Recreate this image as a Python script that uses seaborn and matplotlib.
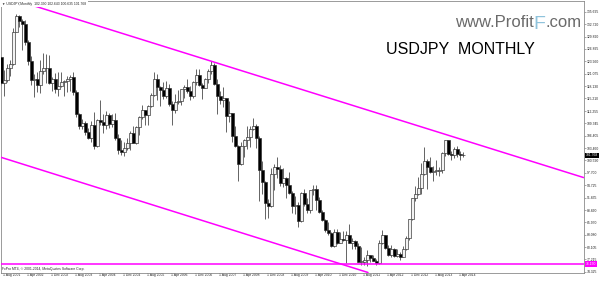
import numpy as np
import pandas as pd
import matplotlib
matplotlib.use("Agg")
import matplotlib.pyplot as plt
import matplotlib.transforms as mtrans
import seaborn as sns

sns.set_theme(style="white")
plt.rcParams["font.family"] = ["Liberation Sans", "DejaVu Sans"]

# ---------------- data (monthly USDJPY, Aug 2001 .. Jun 2014) ----------------
opens = [124.9, 118.9, 119.5, 122.4, 123.4, 131.0, 134.7, 133.4, 132.7, 128.5,
         124.0, 119.5, 119.8, 118.4, 121.8, 122.5, 122.4, 118.8, 119.9, 117.5,
         118.1, 119.0, 119.3, 119.8, 120.4, 116.7, 111.5, 108.6, 109.4, 107.2,
         105.9, 109.0, 103.9, 110.2, 109.6, 108.9, 111.4, 109.3, 110.1, 105.8,
         103.1, 102.6, 103.6, 104.6, 107.1, 104.8, 108.4, 110.9, 112.4, 111.3,
         113.4, 116.1, 119.7, 117.9, 117.2, 115.8, 117.8, 113.8, 112.4, 114.4,
         114.7, 117.4, 118.0, 117.0, 115.8, 119.0, 120.7, 118.5, 117.8, 119.7,
         121.7, 123.2, 118.7, 115.8, 114.8, 115.3, 111.1, 111.7, 106.4, 103.9,
         99.7, 104.0, 105.5, 106.1, 108.1, 108.8, 106.0, 98.4, 95.4, 90.6,
         89.9, 97.5, 99.0, 98.6, 95.3, 96.4, 94.7, 93.0, 89.8, 90.0,
         86.3, 93.0, 90.3, 89.0, 93.5, 93.9, 91.3, 88.4, 86.5, 84.2,
         83.5, 80.4, 83.7, 81.1, 82.1, 81.8, 83.1, 81.2, 81.5, 80.5,
         76.7, 76.7, 77.0, 78.2, 77.6, 76.9, 76.3, 81.2, 82.9, 80.0,
         78.3, 79.8, 78.1, 78.4, 77.9, 79.8, 82.4, 86.7, 91.7, 92.6,
         94.2, 97.4, 100.5, 99.1, 97.9, 98.2, 98.2, 98.3, 102.4, 105.3,
         102.0, 101.8, 103.2, 102.2, 101.8]
highs = [125.0, 121.9, 123.3, 124.3, 131.8, 135.2, 135.0, 133.9, 133.8, 128.9,
         125.2, 121.0, 121.4, 124.3, 126.0, 125.7, 125.4, 120.3, 121.3, 121.4,
         121.4, 119.5, 120.5, 120.7, 121.4, 117.3, 111.9, 110.3, 109.8, 108.2,
         110.0, 112.1, 110.3, 114.9, 111.5, 112.3, 111.9, 111.5, 111.7, 106.8,
         105.5, 104.9, 106.0, 107.5, 108.8, 108.6, 111.1, 113.7, 112.6, 113.6,
         116.4, 121.4, 121.0, 118.1, 119.1, 119.4, 118.7, 114.5, 116.3, 117.3,
         117.5, 118.3, 119.8, 118.2, 119.3, 122.2, 122.2, 118.8, 120.1, 122.2,
         124.1, 123.7, 119.8, 117.0, 117.9, 115.4, 114.7, 111.9, 108.6, 104.3,
         105.0, 105.6, 108.6, 108.6, 110.7, 109.1, 106.3, 100.5, 95.7, 91.5,
         98.9, 99.7, 101.4, 99.5, 98.8, 96.6, 97.8, 93.4, 92.3, 90.8,
         93.1, 93.8, 91.8, 93.7, 94.9, 94.7, 92.0, 88.9, 86.8, 86.0,
         83.7, 84.4, 84.5, 83.6, 84.0, 84.0, 85.5, 82.2, 81.7, 81.0,
         80.2, 77.8, 79.5, 78.3, 78.3, 77.4, 81.7, 84.2, 83.0, 80.6,
         80.6, 79.9, 79.6, 78.9, 80.4, 82.8, 86.8, 91.8, 94.5, 96.7,
         99.9, 103.7, 101.0, 101.5, 99.2, 100.6, 99.0, 102.6, 105.4, 105.4,
         102.8, 103.8, 104.1, 102.8, 102.6]
lows = [118.5, 115.8, 119.0, 120.6, 123.0, 130.9, 132.0, 126.6, 127.9, 123.0,
        118.4, 115.5, 116.8, 116.5, 121.0, 118.8, 118.6, 117.0, 116.6, 115.9,
        117.9, 115.8, 116.8, 116.9, 116.1, 110.9, 107.9, 107.9, 106.7, 105.6,
        104.9, 103.4, 103.7, 108.9, 107.0, 108.0, 108.3, 108.5, 105.4, 102.0,
        101.9, 101.7, 103.0, 103.0, 104.6, 104.5, 106.6, 110.3, 108.9, 109.0,
        113.2, 115.7, 114.8, 113.4, 115.2, 115.4, 113.4, 108.9, 111.7, 114.0,
        113.6, 115.3, 116.6, 114.9, 115.4, 118.3, 118.1, 115.2, 117.6, 118.8,
        121.1, 118.5, 111.6, 113.8, 113.2, 107.2, 109.7, 104.9, 103.8, 95.7,
        99.5, 101.4, 103.4, 103.8, 107.7, 103.5, 90.9, 92.7, 86.8, 87.1,
        89.5, 93.6, 96.5, 94.5, 94.4, 91.7, 92.6, 88.2, 88.0, 84.8,
        86.1, 89.8, 88.1, 88.1, 92.4, 88.9, 88.3, 86.3, 83.6, 82.9,
        80.2, 80.2, 80.9, 81.0, 81.5, 76.3, 81.1, 79.6, 79.7, 76.6,
        75.9, 75.9, 75.6, 76.6, 76.8, 76.0, 76.1, 80.9, 79.6, 78.0,
        77.7, 77.9, 77.9, 77.1, 77.8, 79.5, 81.7, 86.5, 90.9, 92.5,
        92.6, 97.1, 93.8, 97.6, 95.8, 97.2, 96.9, 97.6, 101.6, 101.8,
        100.8, 101.2, 101.4, 100.8, 101.4]
closes = [118.9, 119.5, 122.4, 123.4, 131.0, 134.7, 133.4, 132.7, 128.5, 124.0,
          119.5, 119.8, 118.4, 121.8, 122.5, 122.4, 118.8, 119.9, 117.5, 118.1,
          119.0, 119.3, 119.8, 120.4, 116.7, 111.5, 108.6, 109.4, 107.2, 105.9,
          109.0, 103.9, 110.2, 109.6, 108.9, 111.4, 109.3, 110.1, 105.8, 103.1,
          102.6, 103.6, 104.6, 107.1, 104.8, 108.4, 110.9, 112.4, 111.3, 113.4,
          116.1, 119.7, 117.9, 117.2, 115.8, 117.8, 113.8, 112.4, 114.4, 114.7,
          117.4, 118.0, 117.0, 115.8, 119.0, 120.7, 118.5, 117.8, 119.7, 121.7,
          123.2, 118.7, 115.8, 114.8, 115.3, 111.1, 111.7, 106.4, 103.9, 99.7,
          104.0, 105.5, 106.1, 108.1, 108.8, 106.0, 98.4, 95.4, 90.6, 89.9,
          97.5, 99.0, 98.6, 95.3, 96.4, 94.7, 93.0, 89.8, 90.0, 86.3,
          93.0, 90.3, 89.0, 93.5, 93.9, 91.3, 88.4, 86.5, 84.2, 83.5,
          80.4, 83.7, 81.1, 82.1, 81.8, 83.1, 81.2, 81.5, 80.5, 76.7,
          76.7, 77.0, 78.2, 77.6, 76.9, 76.3, 81.2, 82.9, 80.0, 78.3,
          79.8, 78.1, 78.4, 77.9, 79.8, 82.4, 86.7, 91.7, 92.6, 94.2,
          97.4, 100.5, 99.1, 97.9, 98.2, 98.2, 98.3, 102.4, 105.3, 102.0,
          101.8, 103.2, 102.2, 101.8, 101.768]

y_tick_labels = ["135.695", "132.720", "129.820", "126.895", "123.960", "121.075",
                 "118.130", "115.210", "112.255", "109.345", "106.405", "103.460",
                 "100.590", "97.700", "94.725", "91.835", "88.860", "85.970",
                 "83.080", "80.105", "77.215", "74.325"]

# channel anchors: (bar index, price)
upper_channel = [(11.2, 137.0), (193.8, 96.6)]
lower_channel = [(-0.5, 101.4), (122.8, 74.0)]
support_level = 76.150
last_price = 101.768

# ---------------- frame ----------------
dates = pd.date_range("2001-08-01", periods=len(closes), freq="MS")
df = pd.DataFrame({"date": dates, "open": opens, "high": highs,
                   "low": lows, "close": closes})
df["i"] = np.arange(len(df))
df["bull"] = df["close"] >= df["open"]

fig = plt.figure(figsize=(6.0, 2.81), dpi=100)
fig.patch.set_facecolor("white")
ax = fig.add_axes([0.6 / 600, 1 - 272.5 / 281, 583.1 / 600, 271.5 / 281])
ax.set_facecolor("white")

# wicks
ax.vlines(df["i"], df["low"], df["high"], color="#4a4a4a", linewidth=0.6, zorder=2)
# bodies
body_bottom = np.minimum(df["open"], df["close"])
body_h = np.maximum(np.abs(df["close"] - df["open"]), 0.08)
faces = np.where(df["bull"], "#f2f2f2", "black")
ax.bar(df["i"], body_h, bottom=body_bottom, width=0.7, color=faces,
       edgecolor="#2a2a2a", linewidth=0.45, zorder=3)

# channel and support lines
mag = "#ff00ff"
ax.axline(upper_channel[0], upper_channel[1], color=mag, linewidth=1.1, zorder=4)
ax.axline(lower_channel[0], lower_channel[1], color=mag, linewidth=1.1, zorder=4)
ax.axhline(support_level, color=mag, linewidth=1.1, zorder=4)

ax.set_xlim(-0.3, 194.07)
ax.set_ylim(74.14, 138.22)

# y axis on right
ax.yaxis.tick_right()
ax.set_yticks([float(s) for s in y_tick_labels])
ax.set_yticklabels(y_tick_labels)
ax.tick_params(axis="y", which="major", direction="out", length=1.6, width=0.4,
               color="#666666", labelsize=2.4, labelcolor="#222222", pad=0.8)

# x axis
xt = df["i"][::8]
ax.set_xticks(xt)
ax.set_xticklabels([f"1 {d:%b} {d:%Y}" for d in df["date"][::8]])
ax.tick_params(axis="x", which="major", direction="out", length=4.0, width=0.4,
               color="#666666", labelsize=2.4, labelcolor="#222222", pad=-3.6)
off = mtrans.ScaledTranslation(1.6 / 100, 0, fig.dpi_scale_trans)
for lab in ax.get_xticklabels():
    lab.set_horizontalalignment("left")
    lab.set_transform(lab.get_transform() + off)

for sp in ax.spines.values():
    sp.set_color("#8a8a8a")
    sp.set_linewidth(0.6)

# right-side price boxes
btr = mtrans.blended_transform_factory(ax.transAxes, ax.transData)
boff = mtrans.ScaledTranslation(2.0 / 100, 0, fig.dpi_scale_trans)
ax.text(1.0, last_price, f"{last_price:.3f}", transform=btr + boff, ha="left",
        va="center", fontsize=2.4, color="white", clip_on=False,
        bbox=dict(facecolor="black", edgecolor="none", pad=0.6))
ax.text(1.0, support_level, f"{support_level:.3f}", transform=btr + boff, ha="left",
        va="center", fontsize=2.4, color="white", clip_on=False,
        bbox=dict(facecolor=mag, edgecolor="none", pad=0.6))

# header / footer texts
ax.text(0.003, 0.996, "\u25BC USDJPY,Monthly  102.330 102.643 100.635 101.768",
        transform=ax.transAxes, ha="left", va="top", fontsize=2.4, color="#222222",
        zorder=6, bbox=dict(facecolor="white", edgecolor="none", pad=0.8))
ax.text(0.003, 0.006, "FxPro MT4, \u00A9 2001-2014, MetaQuotes Software Corp.",
        transform=ax.transAxes, ha="left", va="bottom", fontsize=2.4,
        color="#222222", zorder=6)

# title
fig.text(460 / 600, 1 - 50 / 281, "USDJPY  MONTHLY", ha="center", va="center",
         fontsize=11.5, color="black")

# watermark
t3 = fig.text(582 / 600, 1 - 27 / 281, ".com", ha="right", va="baseline",
              fontsize=12, color="#6a6a6a")
t2 = ax.annotate("F", xy=(0, 0), xycoords=t3, xytext=(-0.3, -2.2),
                 textcoords="offset points", ha="right", va="bottom",
                 fontsize=14, color="#8fc3dc", annotation_clip=False)
t1 = ax.annotate("www.Profit", xy=(0, 0), xycoords=t3, xytext=(-8.8, 0),
                 textcoords="offset points", ha="right", va="bottom",
                 fontsize=12, color="#6a6a6a", annotation_clip=False)

fig.savefig("out.png", dpi=100, facecolor="white")
